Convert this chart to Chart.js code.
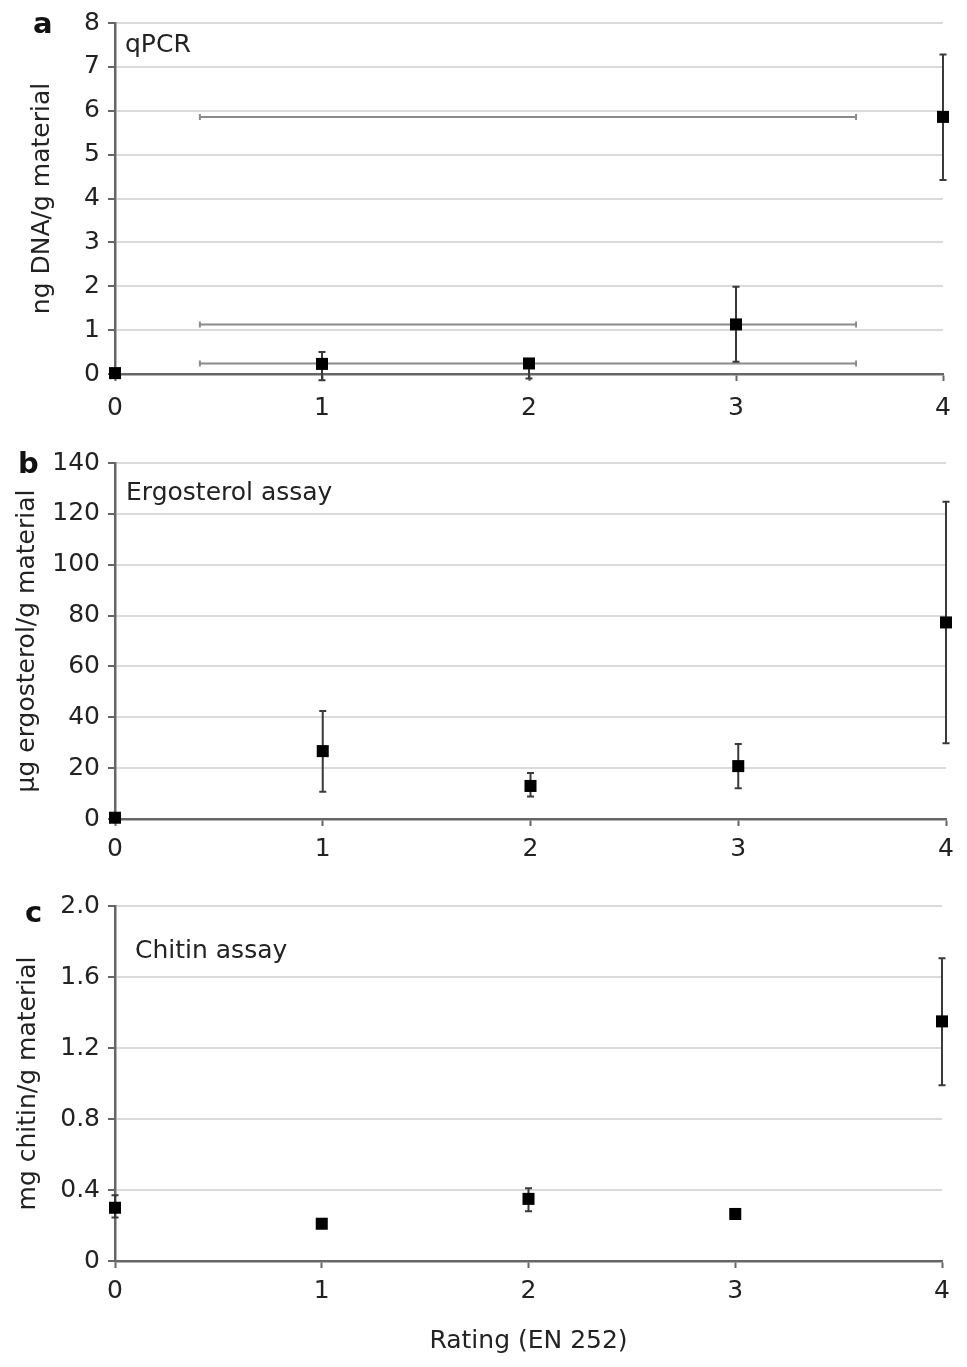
<!DOCTYPE html>
<html>
<head>
<meta charset="utf-8">
<script src="https://cdn.jsdelivr.net/npm/chart.js@4.4.0/dist/chart.umd.min.js"></script>
<style>
  body { margin: 0; background: #fff; }
  #wrap { position: relative; width: 967px; height: 1367px; }
  .panel { position: absolute; left: 0; }
</style>
</head>
<body>
<div id="wrap">
  <div class="panel" style="top:0"><canvas id="chartA" width="967" height="430"></canvas></div>
  <div class="panel" style="top:430px"><canvas id="chartB" width="967" height="440"></canvas></div>
  <div class="panel" style="top:870px"><canvas id="chartC" width="967" height="497"></canvas></div>
</div>
<script>
// rating classes (EN 252)
const ratings = [0, 1, 2, 3, 4];
const ratingLabels = ["0", "1", "2", "3", "4"];

// a: qPCR, ng DNA/g material
const qpcrMean = [0.02, 0.23, 0.24, 1.13, 5.86];
const qpcrLow = [0.0, -0.14, -0.1, 0.28, 4.42];
const qpcrHigh = [0.04, 0.5, 0.32, 1.99, 7.28];
// the long horizontal bars in panel a
const qpcrRangeY = [5.86, 1.13, 0.24];
const qpcrRangeFrom = [0.41, 0.41, 0.41];
const qpcrRangeTo = [3.58, 3.58, 3.58];

// b: ergosterol, µg/g material
const ergoMean = [0.5, 26.7, 13.0, 20.8, 77.3];
const ergoLow = [0.5, 10.7, 8.8, 12.1, 29.8];
const ergoHigh = [0.5, 42.5, 18.1, 29.5, 124.8];

// c: chitin, mg/g material
const chitinMean = [0.3, 0.21, 0.35, 0.265, 1.35];
const chitinLow = [0.245, 0.2, 0.28, 0.24, 0.99];
const chitinHigh = [0.37, 0.22, 0.41, 0.29, 1.705];
const chitinTickLabels = ["0", "0.4", "0.8", "1.2", "1.6", "2.0"];

Chart.defaults.font.family = '"DejaVu Sans", sans-serif';
Chart.defaults.font.size = 25;
Chart.defaults.color = "#222";

// error bars drawn under the markers, through the chart scales
function errorBars(low, high, range) {
  return {
    id: "errorBars",
    beforeDatasetsDraw(chart) {
      const ctx = chart.ctx;
      const xs = chart.scales.x;
      const ys = chart.scales.y;
      ctx.save();
      if (range) {
        ctx.strokeStyle = "#8a8a8a";
        ctx.lineWidth = 2;
        for (let i = 0; i < range.y.length; i++) {
          const y = ys.getPixelForValue(range.y[i]);
          const x1 = xs.getPixelForValue(range.from[i]);
          const x2 = xs.getPixelForValue(range.to[i]);
          ctx.beginPath();
          ctx.moveTo(x1, y); ctx.lineTo(x2, y);
          ctx.moveTo(x1, y - 3); ctx.lineTo(x1, y + 3);
          ctx.moveTo(x2, y - 3); ctx.lineTo(x2, y + 3);
          ctx.stroke();
        }
      }
      ctx.strokeStyle = "#3a3a3a";
      ctx.lineWidth = 2;
      for (let i = 0; i < ratings.length; i++) {
        const x = xs.getPixelForValue(ratings[i]);
        const y1 = ys.getPixelForValue(low[i]);
        const y2 = ys.getPixelForValue(high[i]);
        ctx.beginPath();
        ctx.moveTo(x, y1); ctx.lineTo(x, y2);
        ctx.moveTo(x - 3.5, y1); ctx.lineTo(x + 3.5, y1);
        ctx.moveTo(x - 3.5, y2); ctx.lineTo(x + 3.5, y2);
        ctx.stroke();
      }
      ctx.restore();
    }
  };
}

// panel letter and the label inside the plot
function panelText(letter, lx, ly, label, tx, ty) {
  return {
    id: "panelText",
    afterDraw(chart) {
      const ctx = chart.ctx;
      ctx.save();
      ctx.fillStyle = "#111";
      ctx.textBaseline = "alphabetic";
      ctx.textAlign = "left";
      ctx.font = 'bold 29px "DejaVu Sans", sans-serif';
      ctx.fillText(letter, lx, ly);
      ctx.fillStyle = "#222";
      ctx.font = '25px "DejaVu Sans", sans-serif';
      ctx.fillText(label, tx, ty);
      ctx.restore();
    }
  };
}

function makePanel(id, p) {
  const points = ratings.map((r, i) => ({ x: r, y: p.mean[i] }));
  const xScale = {
    type: "linear",
    min: 0,
    max: 4,
    afterFit: (s) => { s.height = p.xHeight; },
    ticks: {
      stepSize: 1,
      padding: p.xPad,
      callback: (v, i) => ratingLabels[i]
    },
    grid: { drawOnChartArea: false, tickColor: "#666", tickLength: 7, tickWidth: 2 },
    border: { color: "#666", width: 2.5 }
  };
  if (p.xTitle) {
    xScale.title = { display: true, text: p.xTitle, color: "#222", font: { size: 25 }, padding: { top: 0, bottom: 11 } };
  }
  return new Chart(document.getElementById(id), {
    type: "scatter",
    data: {
      datasets: [{
        data: points,
        pointStyle: "rect",
        pointRadius: 8.5,
        pointHoverRadius: 8.5,
        backgroundColor: "#000",
        borderWidth: 0,
        clip: false
      }]
    },
    options: {
      responsive: false,
      animation: false,
      layout: { padding: { left: p.padLeft, top: p.padTop, right: p.padRight, bottom: 0 } },
      plugins: { legend: { display: false }, tooltip: { enabled: false } },
      scales: {
        x: xScale,
        y: {
          min: p.yMin,
          max: p.yMax,
          afterFit: (s) => { s.width = 115 - p.padLeft; },
          ticks: {
            stepSize: p.yStep,
            padding: 8,
            callback: p.yLabels ? (v, i) => p.yLabels[i] : (v) => v
          },
          grid: { color: "#dadada", lineWidth: 2, tickColor: "#666", tickLength: 7, tickWidth: 2 },
          border: { color: "#666", width: 2.5 },
          title: { display: true, text: p.yTitle, color: "#222", font: { size: 25 }, padding: 0 }
        }
      }
    },
    plugins: [errorBars(p.low, p.high, p.range), p.text]
  });
}

makePanel("chartA", {
  mean: qpcrMean, low: qpcrLow, high: qpcrHigh,
  range: { y: qpcrRangeY, from: qpcrRangeFrom, to: qpcrRangeTo },
  yMin: 0, yMax: 8, yStep: 1,
  yTitle: "ng DNA/g material",
  padLeft: 27, padTop: 20, padRight: 24, xHeight: 56, xPad: 12,
  text: panelText("a", 33, 33, "qPCR", 125, 52)
});

makePanel("chartB", {
  mean: ergoMean, low: ergoLow, high: ergoHigh,
  yMin: 0, yMax: 140, yStep: 20,
  yTitle: "µg ergosterol/g material",
  padLeft: 12, padTop: 33, padRight: 21, xHeight: 51, xPad: 8,
  text: panelText("b", 18, 43, "Ergosterol assay", 126, 70)
});

makePanel("chartC", {
  mean: chitinMean, low: chitinLow, high: chitinHigh,
  yMin: 0, yMax: 2, yStep: 0.4, yLabels: chitinTickLabels,
  yTitle: "mg chitin/g material",
  xTitle: "Rating (EN 252)",
  padLeft: 13, padTop: 36, padRight: 25, xHeight: 106, xPad: 8,
  text: panelText("c", 25, 52, "Chitin assay", 135, 88)
});
</script>
</body>
</html>
